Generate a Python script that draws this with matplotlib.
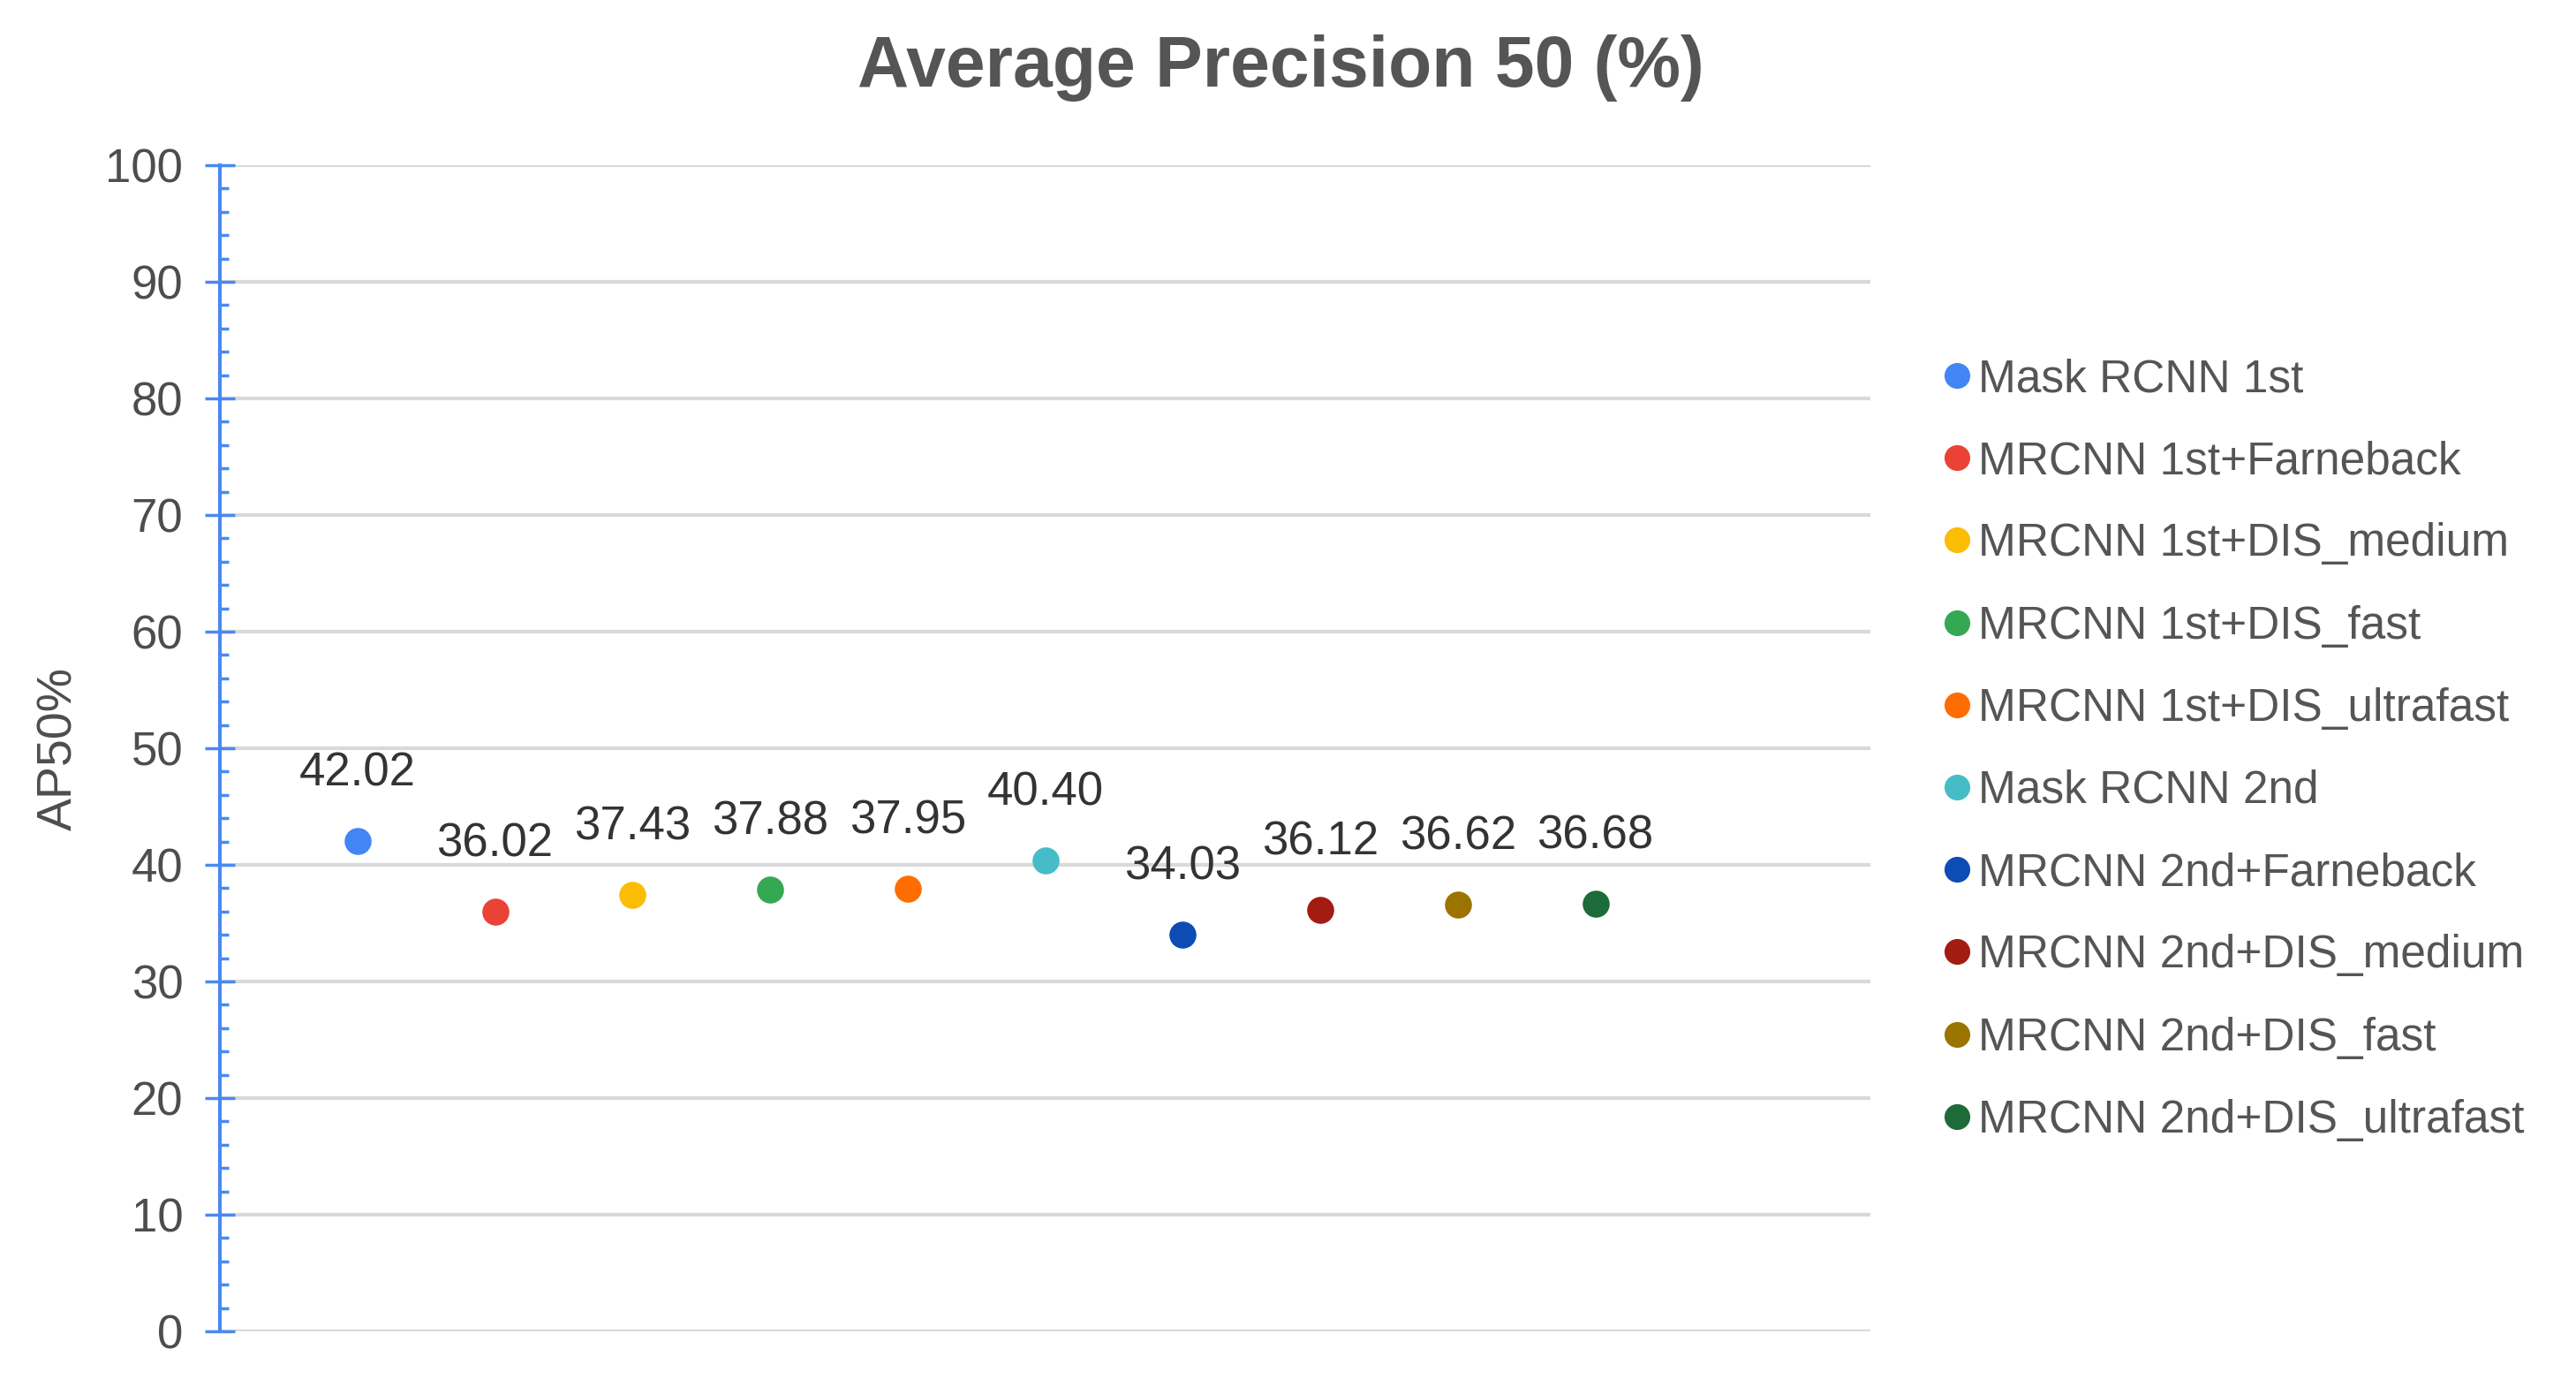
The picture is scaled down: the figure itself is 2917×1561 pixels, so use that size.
import matplotlib

matplotlib.use("Agg")

import matplotlib.pyplot as plt
from matplotlib.lines import Line2D

methods = [
    "Mask RCNN 1st",
    "MRCNN 1st+Farneback",
    "MRCNN 1st+DIS_medium",
    "MRCNN 1st+DIS_fast",
    "MRCNN 1st+DIS_ultrafast",
    "Mask RCNN 2nd",
    "MRCNN 2nd+Farneback",
    "MRCNN 2nd+DIS_medium",
    "MRCNN 2nd+DIS_fast",
    "MRCNN 2nd+DIS_ultrafast",
]
ap50 = [42.02, 36.02, 37.43, 37.88, 37.95, 40.40, 34.03, 36.12, 36.62, 36.68]
colors = [
    "#4285f4", "#ea4335", "#fbbc04", "#34a853", "#ff6d01",
    "#46bdc6", "#0c4cb4", "#a21c12", "#9b7400", "#1d6b38",
]
y_ticks = list(range(0, 101, 10))

W, H = 2917, 1561
plt.rcParams["font.family"] = ["Liberation Sans", "DejaVu Sans"]

fig = plt.figure(figsize=(W / 100, H / 100), dpi=100)
ax = fig.add_axes([249 / W, 1 - 1507 / H, (2118 - 249) / W, (1507 - 187) / H])

axis_blue = "#4a89f3"
handles = []
for i, (name, val, col) in enumerate(zip(methods, ap50, colors)):
    ax.plot([i + 1], [val], "o", color=col, markersize=22, markeredgewidth=0, zorder=3)
    ax.annotate(f"{val:.2f}", (i + 1, val), xytext=(0, 55), textcoords="offset points",
                ha="center", va="center", fontsize=38, color="#333333")
    handles.append(Line2D([], [], marker="o", linestyle="none", color=col,
                          markersize=21, markeredgewidth=0, label=name))

ax.set_xlim(0, 12)
ax.set_ylim(0, 100)
ax.set_yticks(y_ticks)
ax.set_yticks(range(0, 101, 2), minor=True)
ax.set_xticks([])
ax.grid(axis="y", color="#d9d9d9", linewidth=3, zorder=0)
ax.set_axisbelow(True)

for side in ["top", "right", "bottom"]:
    ax.spines[side].set_visible(False)
ax.spines["left"].set_color(axis_blue)
ax.spines["left"].set_linewidth(3)
ax.tick_params(axis="y", which="major", direction="inout", length=24, width=2.5,
               color=axis_blue, labelsize=38, labelcolor="#4d4d4d", pad=18)
ax.tick_params(axis="y", which="minor", direction="in", length=7, width=2.5,
               color=axis_blue)

ax.set_ylabel("AP50%", fontsize=40, color="#4d4d4d")
ax.yaxis.set_label_coords(-(249 - 93) / (2118 - 249), 0.5)

fig.text(1450 / W, 1 - 77 / H, "Average Precision 50 (%)", ha="center", va="center",
         fontsize=58, fontweight="bold", color="#555555")

fig.legend(handles=handles, loc="upper left", bbox_to_anchor=(2201 / W, 1 - 405 / H),
           frameon=False, fontsize=37, handlelength=0.6, handletextpad=0.15,
           labelspacing=0.86, borderaxespad=0, borderpad=0, labelcolor="#555555")

fig.savefig("out.png", dpi=100)
